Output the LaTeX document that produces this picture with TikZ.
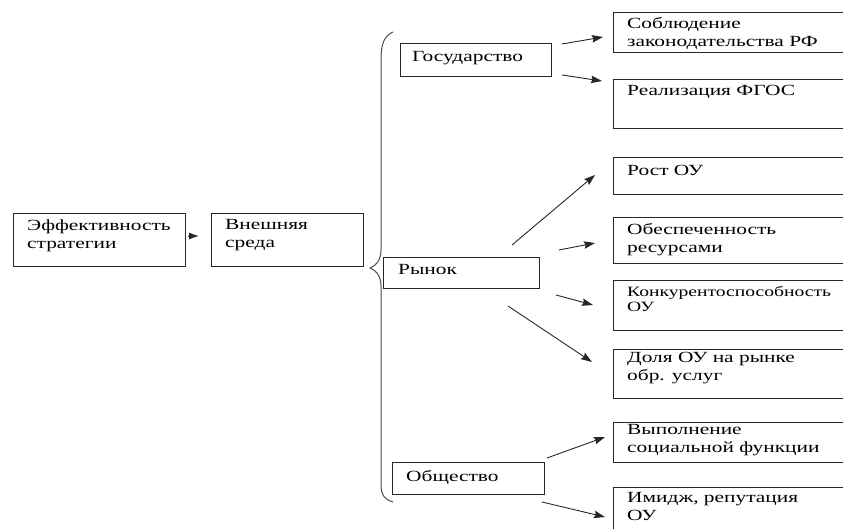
\documentclass[tikz,border=0pt]{standalone}
\usepackage{fontspec}
\usepackage{graphicx}
\setmainfont{Liberation Serif}
\newcommand{\sx}[1]{\scalebox{1.38}[1]{#1}}
\usetikzlibrary{arrows.meta}
\begin{document}
\begin{tikzpicture}[x=1pt,y=-1pt,
  box/.style={draw=black!85,line width=0.9pt},
  txt/.style={anchor=north west,inner sep=0pt,align=left,font=\fontsize{15.5}{18}\selectfont,execute at begin node=\strut},
  smalltxt/.style={txt,font=\fontsize{14.2}{14.5}\selectfont},
  arr/.style={draw=black!85,line width=0.9pt,-{Stealth[length=11pt,width=7.5pt,inset=1.5pt]}},
  brace/.style={draw=black!70,line width=1pt}]
\useasboundingbox (0,0) rectangle (843,529);
\clip (0,0) rectangle (843,529);
% left boxes
\node[box,anchor=north west,minimum width=172pt,minimum height=53pt,inner sep=0pt] (eff) at (13,213) {};
\node[box,anchor=north west,minimum width=152pt,minimum height=53pt,inner sep=0pt] (vne) at (211,213) {};
\node[box,anchor=north west,minimum width=151pt,minimum height=33pt,inner sep=0pt] (gos) at (400,43) {};
\node[box,anchor=north west,minimum width=156pt,minimum height=31pt,inner sep=0pt] (ryn) at (383,257) {};
\node[box,anchor=north west,minimum width=152pt,minimum height=32pt,inner sep=0pt] (obs) at (392,462) {};
% right boxes
\node[box,anchor=north west,minimum width=260pt,minimum height=40pt,inner sep=0pt] (sob) at (613,12) {};
\node[box,anchor=north west,minimum width=260pt,minimum height=49pt,inner sep=0pt] (rea) at (613,79) {};
\node[box,anchor=north west,minimum width=260pt,minimum height=37pt,inner sep=0pt] (ros) at (613,157) {};
\node[box,anchor=north west,minimum width=260pt,minimum height=46pt,inner sep=0pt] (obe) at (613,217) {};
\node[box,anchor=north west,minimum width=260pt,minimum height=50pt,inner sep=0pt] (kon) at (613,280) {};
\node[box,anchor=north west,minimum width=260pt,minimum height=49pt,inner sep=0pt] (dol) at (613,349) {};
\node[box,anchor=north west,minimum width=260pt,minimum height=40pt,inner sep=0pt] (vyp) at (613,422) {};
\node[box,anchor=north west,minimum width=260pt,minimum height=60pt,inner sep=0pt] (imi) at (613,487) {};
% texts
\node[txt] (teff) at (27,219.4) {\sx{Эффективность}\\\sx{стратегии}};
\node[txt] (tvne) at (225,219.4) {\sx{Внешняя}\\\sx{среда}};
\node[txt] (tgos) at (412,48.4) {\sx{Государство}};
\node[txt] (tryn) at (398,261.4) {\sx{Рынок}};
\node[txt] (tobs) at (406,468.4) {\sx{Общество}};
\node[txt] (tsob) at (627,17.4) {\sx{Соблюдение}\\\sx{законодательства РФ}};
\node[txt] (trea) at (627,82.4) {\sx{Реализация ФГОС}};
\node[txt] (tros) at (627,162.4) {\sx{Рост ОУ}};
\node[txt] (tobe) at (627,223.4) {\sx{Обеспеченность}\\\sx{ресурсами}};
\node[smalltxt] (tkon) at (627,286.2) {\sx{Конкурентоспособность}\\\sx{ОУ}};
\node[txt] (tdol) at (627,352.4) {\sx{Доля ОУ на рынке}\\\sx{обр. услуг}};
\node[txt] (tvyp) at (627,424.4) {\sx{Выполнение}\\\sx{социальной функции}};
\node[txt] (timi) at (627,492.4) {\sx{Имидж, репутация}\\\sx{ОУ}};
% brace
\draw[brace] (393,32) .. controls (384,36) and (381,44) .. (381,60) -- (381,250)
  .. controls (381,260) and (376,266) .. (370,268)
  .. controls (376,270) and (381,276) .. (381,286) -- (381,485)
  .. controls (381,495) and (385,500) .. (393,502);
% arrow end points
\coordinate (a0s) at (188,236); \coordinate (a0e) at (199,236);
\coordinate (g1s) at (562,44);  \coordinate (g1e) at (603,37);
\coordinate (g2s) at (562,75);  \coordinate (g2e) at (602,81);
\coordinate (r1s) at (512,245); \coordinate (r1e) at (595,175);
\coordinate (r2s) at (559,250); \coordinate (r2e) at (595,243);
\coordinate (r3s) at (556,295); \coordinate (r3e) at (593,305);
\coordinate (r4s) at (508,306); \coordinate (r4e) at (592,362);
\coordinate (o1s) at (547,458); \coordinate (o1e) at (605,437);
\coordinate (o2s) at (542,502); \coordinate (o2e) at (605,517);
\draw[arr,-{Latex[length=10pt,width=7pt]}] (a0s) -- (a0e);
\draw[arr] (g1s) -- (g1e);
\draw[arr] (g2s) -- (g2e);
\draw[arr] (r1s) -- (r1e);
\draw[arr] (r2s) -- (r2e);
\draw[arr] (r3s) -- (r3e);
\draw[arr] (r4s) -- (r4e);
\draw[arr] (o1s) -- (o1e);
\draw[arr] (o2s) -- (o2e);
\end{tikzpicture}
\end{document}
